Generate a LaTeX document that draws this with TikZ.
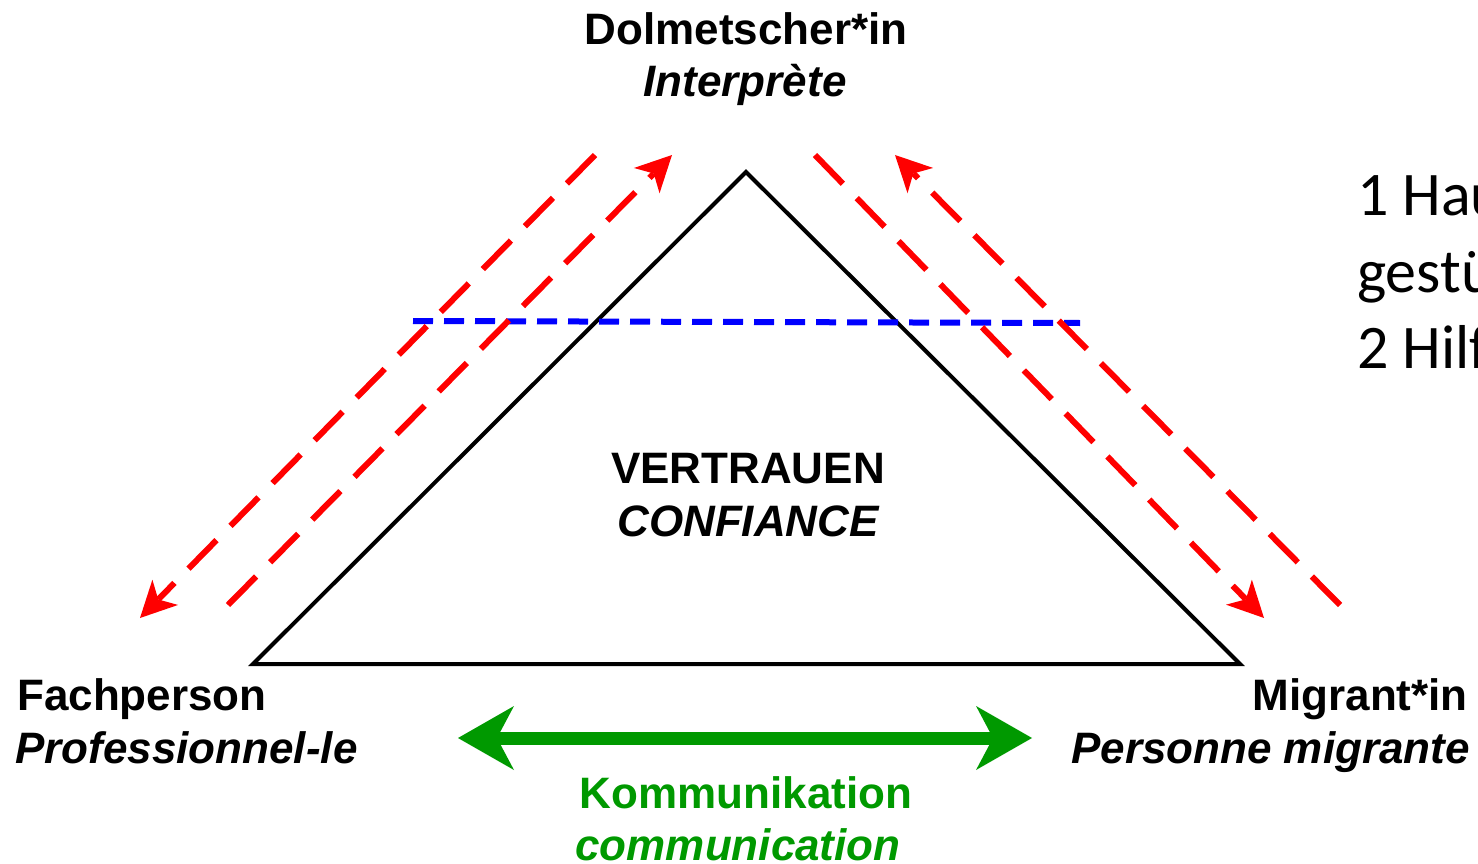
\documentclass[tikz,border=0pt]{standalone}
\usepackage{fontspec}
\setmainfont{Liberation Sans}
\newfontfamily\slidefont{Carlito}
\usetikzlibrary{arrows.meta}
\definecolor{arrowred}{RGB}{255,0,0}
\definecolor{lineblue}{RGB}{0,0,255}
\definecolor{commgreen}{RGB}{0,153,0}

\begin{document}
\begin{tikzpicture}[x=1pt, y=-1pt,
        lbl/.style={font=\fontsize{44}{52}\selectfont\bfseries, inner sep=0pt, anchor=base},
        ilbl/.style={font=\fontsize{44}{52}\selectfont\bfseries\itshape, inner sep=0pt, anchor=base},
        note/.style={font=\slidefont\fontsize{62}{76}\selectfont, inner sep=0pt, anchor=base west},
        redarrow/.style={draw=arrowred, line width=6pt, dash pattern=on 40pt off 20pt,
            -{Stealth[length=36pt, width=36pt, inset=10pt, line width=0pt, fill=arrowred]}}]
        \useasboundingbox (0, 0) rectangle (1478, 864);

        \coordinate (apex) at (746, 172);
        \coordinate (lft) at (253, 664);
        \coordinate (rgt) at (1240, 664);

        \coordinate (b0) at (413, 321);
        \coordinate (b1) at (1080, 323);

        \coordinate (lo0) at (595, 155);
        \coordinate (lo1) at (140, 618);
        \coordinate (li0) at (228, 605);
        \coordinate (li1) at (672, 155);
        \coordinate (ri0) at (815, 155);
        \coordinate (ri1) at (1264, 618);
        \coordinate (ro0) at (1340, 605);
        \coordinate (ro1) at (895, 155);

        \coordinate (g0) at (458, 738);
        \coordinate (g1) at (1032, 738);

        \node[lbl] (dolm) at (746, 45) {Dolmetscher*in};
        \node[ilbl] (interp) at (745, 97) {Interprète};

        \node[lbl] (vert) at (748, 483) {VERTRAUEN};
        \node[ilbl] (conf) at (748, 536) {CONFIANCE};

        \node[lbl, anchor=base west] (fach) at (17, 710) {Fachperson};
        \node[ilbl, anchor=base west] (prof) at (15, 763) {Professionnel-le};

        \node[lbl, anchor=base east] (migr) at (1468, 710) {Migrant*in};
        \node[ilbl, anchor=base east] (pers) at (1470, 763) {Personne migrante};

        \node[lbl, text=commgreen] (komm) at (746, 808) {Kommunikation};
        \node[ilbl, text=commgreen] (comm) at (738, 860) {communication};

        \node[note] (n1) at (1357, 215) {1 Hau};
        \node[note] (n2) at (1357, 292) {gestü};
        \node[note] (n3) at (1357, 368) {2 Hilf};

        \draw[line width=4pt] (apex) -- (lft) -- (rgt) -- cycle;

        \draw[lineblue, line width=6pt, dash pattern=on 20pt off 11pt] (b0) -- (b1);

        \draw[redarrow] (lo0) -- (lo1);
        \draw[redarrow] (li0) -- (li1);
        \draw[redarrow] (ri0) -- (ri1);
        \draw[redarrow] (ro0) -- (ro1);

        \draw[commgreen, line width=13pt,
            {Stealth[length=56pt, width=64pt, inset=17pt, line width=0pt]}-{Stealth[length=56pt, width=64pt, inset=17pt, line width=0pt]}] (g0) -- (g1);
    \end{tikzpicture}
\end{document}
